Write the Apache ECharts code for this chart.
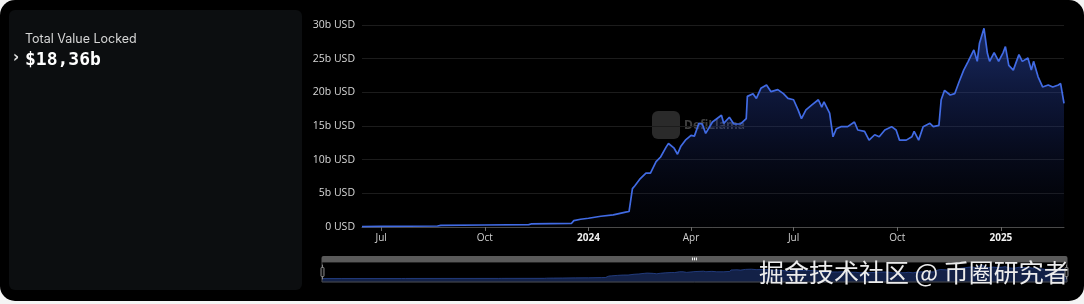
<!DOCTYPE html>
<html>
<head>
<meta charset="utf-8">
<script src="https://cdn.jsdelivr.net/npm/echarts@6/dist/echarts.min.js"></script>
<style>
  html, body { margin: 0; padding: 0; width: 1084px; height: 304px; background: #f4f4f4; overflow: hidden; }
  #frame { position: absolute; left: 0; top: 0; width: 1084px; height: 301px; background: #000; border-radius: 15px; }
  #panel { position: absolute; left: 9px; top: 10px; width: 293px; height: 280px; background: #0c0e10; border-radius: 6px; }
  #chart { position: absolute; left: 0; top: 0; width: 1084px; height: 304px; }
</style>
</head>
<body>
<div id="frame"></div>
<div id="panel"></div>
<div id="chart"></div>
<script>
// ---- data (TVL in billions USD) ----
const dates = [
  '2023-06-14','2023-07-01','2023-08-20','2023-08-23','2023-10-01','2023-11-09','2023-11-11','2023-12-17','2023-12-19','2023-12-25',
  '2024-01-01','2024-01-12','2024-01-23','2024-02-03','2024-02-06','2024-02-09','2024-02-11','2024-02-16','2024-02-21','2024-02-25',
  '2024-03-01','2024-03-05','2024-03-10','2024-03-12','2024-03-17','2024-03-20','2024-03-23','2024-03-27','2024-04-01','2024-04-04',
  '2024-04-08','2024-04-11','2024-04-14','2024-04-20','2024-04-28','2024-04-30','2024-05-05','2024-05-09','2024-05-15','2024-05-20',
  '2024-05-21','2024-05-26','2024-05-29','2024-06-02','2024-06-07','2024-06-11','2024-06-17','2024-06-22','2024-06-26','2024-07-01',
  '2024-07-05','2024-07-08','2024-07-12','2024-07-17','2024-07-23','2024-07-26','2024-07-28','2024-08-02','2024-08-05','2024-08-08',
  '2024-08-12','2024-08-18','2024-08-24','2024-08-27','2024-09-02','2024-09-06','2024-09-11','2024-09-15','2024-09-20','2024-09-26',
  '2024-09-30','2024-10-03','2024-10-09','2024-10-14','2024-10-16','2024-10-20','2024-10-24','2024-10-30','2024-11-02','2024-11-07',
  '2024-11-09','2024-11-12','2024-11-17','2024-11-21','2024-11-25','2024-11-29','2024-12-03','2024-12-08','2024-12-11','2024-12-13',
  '2024-12-17','2024-12-20','2024-12-22','2024-12-26','2024-12-30','2025-01-03','2025-01-05','2025-01-08','2025-01-12','2025-01-17',
  '2025-01-20','2025-01-25','2025-01-28','2025-01-30','2025-02-03','2025-02-07','2025-02-12','2025-02-16','2025-02-21','2025-02-23',
  '2025-02-26'
];
const tvl = [
  0.05, 0.1, 0.15, 0.25, 0.3, 0.35, 0.45, 0.55, 0.95, 1.15,
  1.3, 1.6, 1.8, 2.2, 2.3, 5.7, 6.1, 7.2, 8.0, 8.0,
  9.7, 10.4, 11.9, 12.4, 11.7, 10.8, 12.0, 12.9, 13.6, 13.5,
  15.4, 15.3, 13.9, 15.6, 16.6, 15.4, 16.3, 15.3, 15.3, 16.1,
  19.4, 19.8, 19.1, 20.6, 21.1, 20.1, 20.4, 19.8, 19.1, 18.9,
  17.4, 16.1, 17.4, 18.1, 18.9, 17.8, 18.6, 16.9, 13.4, 14.6,
  14.9, 14.9, 15.6, 14.4, 14.2, 12.9, 13.7, 13.4, 14.4, 14.9,
  14.4, 12.9, 12.9, 13.4, 14.2, 12.9, 14.9, 15.4, 14.9, 15.1,
  18.9, 20.3, 19.6, 19.8, 21.6, 23.3, 24.6, 26.3, 24.6, 27.3,
  29.5, 25.8, 24.6, 25.9, 24.6, 25.9, 26.8, 24.0, 23.3, 25.6,
  24.6, 25.1, 23.3, 24.6, 22.3, 20.8, 21.1, 20.8, 21.1, 21.3,
  18.36
];
const yTicks = [0, 5, 10, 15, 20, 25, 30];
const monthNames = ['Jan','Feb','Mar','Apr','May','Jun','Jul','Aug','Sep','Oct','Nov','Dec'];
const titleText = 'Total Value Locked';
const headline = '$' + tvl[tvl.length - 1].toFixed(2).replace('.', ',') + 'b';
const watermark = '掘金技术社区 @ 币圈研究者';

function toTs(s) { const p = s.split('-').map(Number); return new Date(p[0], p[1] - 1, p[2]).getTime(); }
const seriesData = dates.map((d, i) => [toTs(d), tvl[i]]);
const DAY = 24 * 3600 * 1000;

const chart = echarts.init(document.getElementById('chart'), null, { renderer: 'canvas' });
chart.setOption({
  backgroundColor: 'transparent',
  animation: false,
  grid: { left: 362, right: 20, top: 25, bottom: 77 },
  xAxis: {
    type: 'time',
    minInterval: 100 * DAY,
    maxInterval: 100 * DAY,
    axisLine: { show: true, lineStyle: { color: '#4a4a4a', width: 1 } },
    axisTick: { show: true, length: 4, lineStyle: { color: '#6a6a6a' } },
    splitLine: { show: false },
    axisLabel: {
      color: '#d0d0d0', fontSize: 10, fontFamily: 'Open Sans', margin: 6,
      formatter: function (val) {
        const d = new Date(val);
        if (d.getMonth() === 0) return '{b|' + d.getFullYear() + '}';
        return monthNames[d.getMonth()];
      },
      rich: { b: { fontWeight: 'bold', color: '#f0f0f0', fontSize: 10, fontFamily: 'Open Sans' } }
    }
  },
  yAxis: {
    type: 'value',
    min: yTicks[0], max: yTicks[yTicks.length - 1], interval: 5,
    axisLine: { show: false }, axisTick: { show: false },
    splitLine: { show: true, lineStyle: { color: '#1c1c1c', width: 1 } },
    axisLabel: {
      color: '#d8d8d8', fontSize: 10.5, fontFamily: 'Open Sans', margin: 7,
      formatter: v => v === 0 ? '0 USD' : v + 'b USD'
    }
  },
  dataZoom: [{
    type: 'slider',
    start: 0, end: 100,
    left: 319, right: 19, top: 256, height: 21,
    showDetail: false,
    brushSelect: true,
    backgroundColor: 'transparent',
    borderColor: '#4a4a4a',
    fillerColor: 'rgba(0,0,0,0)',
    handleSize: '70%',
    handleStyle: { color: '#111', borderColor: '#8a8a8a', borderWidth: 1 },
    moveHandleSize: 6,
    moveHandleStyle: { color: '#5a5a5a', opacity: 1 },
    emphasis: { moveHandleStyle: { color: '#6a6a6a' }, handleStyle: { borderColor: '#aaa' } },
    dataBackground: {
      lineStyle: { color: '#2b4b9e', width: 0.8, opacity: 0.9 },
      areaStyle: { color: '#15254f', opacity: 0.9 }
    },
    selectedDataBackground: {
      lineStyle: { color: '#2b4b9e', width: 0.8, opacity: 0.9 },
      areaStyle: { color: '#15254f', opacity: 0.9 }
    }
  }],
  series: [{
    type: 'line',
    data: seriesData,
    showSymbol: false,
    smooth: false,
    lineStyle: { color: '#416be4', width: 1.7 },
    itemStyle: { color: '#416be4' },
    areaStyle: {
      color: new echarts.graphic.LinearGradient(0, 0, 0, 1, [
        { offset: 0, color: 'rgba(48,82,190,0.75)' },
        { offset: 0.5, color: 'rgba(30,50,130,0.45)' },
        { offset: 1, color: 'rgba(10,16,40,0.15)' }
      ])
    }
  }],
  graphic: [
    { type: 'text', left: 25, top: 33, style: { text: titleText, fill: '#d6d6d6', font: '12.5px Inter' } },
    { type: 'text', left: 13, top: 51, style: { text: '›', fill: '#e0e0e0', font: 'bold 15px "DejaVu Sans"' } },
    { type: 'text', left: 25, top: 51, style: { text: headline, fill: '#ffffff', font: 'bold 18px "DejaVu Sans Mono"' } },
    { type: 'rect', left: 652, top: 111, shape: { width: 28, height: 28, r: 6 }, style: { fill: 'rgba(120,120,120,0.35)' } },
    { type: 'text', left: 684, top: 120, style: { text: 'DefiLlama', fill: 'rgba(130,130,130,0.5)', font: 'bold 12px "Open Sans"' } },
    { type: 'text', left: 759, top: 260, z: 100, style: { text: watermark, fill: '#ececec', font: '25px "Noto Sans CJK SC"' } }
  ]
});
</script>
</body>
</html>
